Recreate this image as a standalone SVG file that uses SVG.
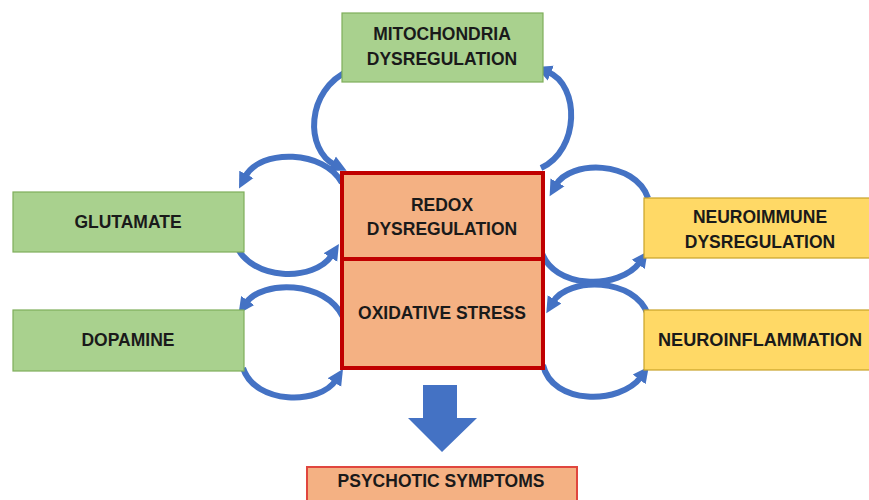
<svg xmlns="http://www.w3.org/2000/svg" width="869" height="500" viewBox="0 0 869 500">
<style>
.green{fill:#a9d18e;stroke:#7fae5a;stroke-width:1.2}
.yellow{fill:#ffd966;stroke:#c9a227;stroke-width:1.2}
.core{fill:#f4b183;stroke:#c00000;stroke-width:4}
.out{fill:#f4b183;stroke:#e0463e;stroke-width:2}
.t{font-family:"Liberation Sans",Arial,sans-serif;font-weight:bold;font-size:17.5px;fill:#1a1a1a;text-anchor:middle}
.arc{fill:none;stroke:#4472c4;stroke-width:6;marker-end:url(#ah)}
</style>
<defs>
<marker id="ah" markerUnits="userSpaceOnUse" markerWidth="18" markerHeight="18" viewBox="0 0 18 18" refX="3" refY="9" orient="auto">
<path d="M0,1 L16,9 L0,17 z" fill="#4472c4"/>
</marker>
</defs>
<rect width="869" height="500" fill="#ffffff"/>
<g id="connectors">
<path class="arc" d="M350,70 C305,90 305,150 335,165"/>
<path class="arc" d="M541,168 C580,150 580,85 548,72"/>
<path class="arc" d="M342,183 C325,150 260,148 245,177"/>
<path class="arc" d="M235,243 C250,282 315,282 332,255"/>
<path class="arc" d="M343,317 C325,280 262,280 246,303"/>
<path class="arc" d="M243,368 C255,405 320,405 336,380"/>
<path class="arc" d="M648,198 C635,160 570,160 556,185"/>
<path class="arc" d="M541,250 C552,290 620,290 640,262"/>
<path class="arc" d="M648,315 C635,277 568,277 553,302"/>
<path class="arc" d="M543,365 C552,405 620,405 641,377"/>
<path d="M423,385 H457 V418 H477 L442,452 L408,418 H423 Z" fill="#4472c4"/>
</g>
<g id="mitochondria">
<rect class="green" x="342" y="13" width="201" height="69"/>
<text class="t" x="442" y="40">MITOCHONDRIA</text>
<text class="t" x="442" y="65">DYSREGULATION</text>
</g>
<g id="glutamate">
<rect class="green" x="13" y="192" width="231" height="60"/>
<text class="t" x="128" y="228">GLUTAMATE</text>
</g>
<g id="dopamine">
<rect class="green" x="13" y="310" width="231" height="61"/>
<text class="t" x="128" y="346">DOPAMINE</text>
</g>
<g id="neuroimmune">
<rect class="yellow" x="644" y="198" width="230" height="60"/>
<text class="t" x="760" y="223">NEUROIMMUNE</text>
<text class="t" x="760" y="248">DYSREGULATION</text>
</g>
<g id="neuroinflammation">
<rect class="yellow" x="644" y="310" width="230" height="60"/>
<text class="t" x="760" y="346" textLength="204" lengthAdjust="spacingAndGlyphs">NEUROINFLAMMATION</text>
</g>
<g id="redox">
<rect class="core" x="342" y="173" width="201" height="86"/>
<text class="t" x="442" y="211">REDOX</text>
<text class="t" x="442" y="235">DYSREGULATION</text>
</g>
<g id="oxidative">
<rect class="core" x="342" y="259" width="201" height="109"/>
<text class="t" x="442" y="319">OXIDATIVE STRESS</text>
</g>
<g id="psychotic">
<rect class="out" x="307" y="467" width="270" height="40"/>
<text class="t" x="441" y="487">PSYCHOTIC SYMPTOMS</text>
</g>
</svg>
